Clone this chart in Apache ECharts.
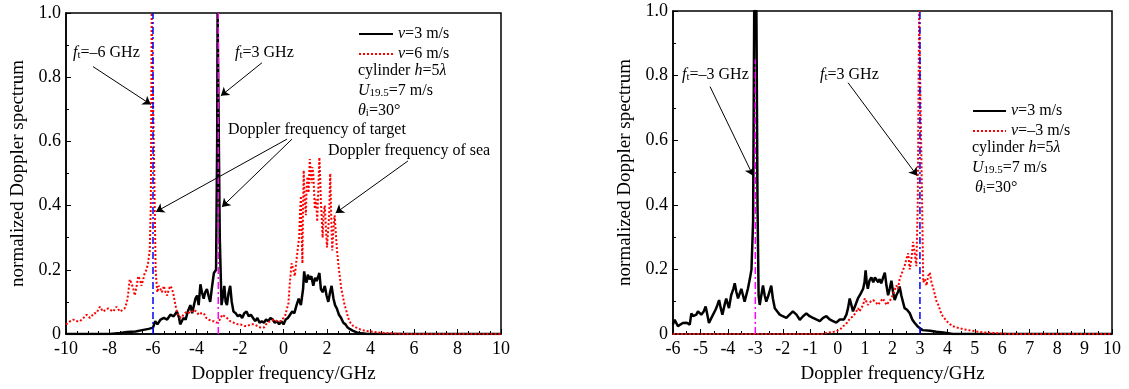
<!DOCTYPE html>
<html><head><meta charset="utf-8">
<script src="https://cdn.jsdelivr.net/npm/echarts@6/dist/echarts.min.js"></script>
<style>html,body{margin:0;padding:0;background:#fff}#c{width:1129px;height:389px}</style>
</head><body><div id="c"></div>
<script>
// ---------- DATA ----------
// Left panel: [Doppler frequency (GHz), normalized spectrum]
const leftBlack = [[-10,0],[-8,0],[-7.5,0.003],[-7.2,0.006],[-6.8,0.008],[-6.5,0.012],[-6.2,0.016],[-6.0,0.02],[-5.9,0.04],[-5.8,0.03],[-5.65,0.045],[-5.5,0.05],[-5.35,0.045],[-5.2,0.06],[-5.05,0.055],[-4.9,0.07],[-4.8,0.05],[-4.75,0.03],[-4.6,0.05],[-4.5,0.045],[-4.4,0.07],[-4.28,0.09],[-4.2,0.065],[-4.13,0.07],[-4.05,0.11],[-3.97,0.12],[-3.9,0.09],[-3.82,0.155],[-3.75,0.13],[-3.67,0.11],[-3.6,0.13],[-3.52,0.14],[-3.45,0.12],[-3.37,0.1],[-3.3,0.14],[-3.2,0.19],[-3.1,0.2],[-3.05,0.6],[-3.03,1.0],[-2.97,1.0],[-2.93,0.3],[-2.85,0.09],[-2.78,0.12],[-2.72,0.15],[-2.66,0.1],[-2.6,0.09],[-2.52,0.13],[-2.45,0.15],[-2.38,0.1],[-2.3,0.07],[-2.2,0.065],[-2.1,0.055],[-2.0,0.06],[-1.9,0.05],[-1.8,0.065],[-1.7,0.07],[-1.6,0.055],[-1.5,0.06],[-1.4,0.05],[-1.3,0.04],[-1.2,0.05],[-1.1,0.035],[-1.0,0.04],[-0.9,0.035],[-0.8,0.045],[-0.7,0.04],[-0.6,0.05],[-0.5,0.045],[-0.4,0.035],[-0.3,0.04],[-0.2,0.03],[-0.1,0.04],[0,0.03],[0.1,0.045],[0.2,0.05],[0.3,0.06],[0.4,0.07],[0.5,0.065],[0.6,0.09],[0.7,0.11],[0.8,0.09],[0.9,0.14],[0.95,0.195],[1.0,0.17],[1.06,0.16],[1.12,0.185],[1.2,0.17],[1.28,0.18],[1.37,0.15],[1.45,0.175],[1.52,0.165],[1.6,0.18],[1.65,0.19],[1.72,0.14],[1.8,0.13],[1.9,0.15],[1.98,0.12],[2.06,0.1],[2.14,0.13],[2.21,0.15],[2.3,0.11],[2.37,0.09],[2.45,0.08],[2.55,0.06],[2.65,0.05],[2.75,0.035],[2.85,0.03],[2.95,0.02],[3.06,0.015],[3.2,0.01],[3.37,0.005],[3.6,0.002],[3.85,0],[10,0]];
const leftRed = [[-10,0.03],[-9.8,0.04],[-9.66,0.045],[-9.5,0.04],[-9.36,0.04],[-9.2,0.05],[-9.05,0.06],[-8.9,0.05],[-8.82,0.055],[-8.7,0.065],[-8.6,0.065],[-8.44,0.085],[-8.3,0.07],[-8.18,0.075],[-8.06,0.08],[-7.95,0.075],[-7.83,0.07],[-7.68,0.085],[-7.52,0.07],[-7.4,0.075],[-7.3,0.08],[-7.2,0.1],[-7.15,0.12],[-7.07,0.17],[-7.0,0.16],[-6.9,0.14],[-6.84,0.12],[-6.75,0.15],[-6.68,0.18],[-6.6,0.17],[-6.53,0.15],[-6.45,0.17],[-6.38,0.19],[-6.3,0.2],[-6.23,0.22],[-6.15,0.26],[-6.1,0.4],[-6.06,1.0],[-5.97,1.0],[-5.92,0.4],[-5.88,0.2],[-5.85,0.17],[-5.8,0.13],[-5.74,0.15],[-5.66,0.14],[-5.59,0.13],[-5.5,0.15],[-5.42,0.13],[-5.35,0.12],[-5.27,0.14],[-5.2,0.15],[-5.12,0.14],[-5.05,0.12],[-4.97,0.09],[-4.9,0.07],[-4.82,0.055],[-4.7,0.05],[-4.6,0.06],[-4.45,0.07],[-4.3,0.065],[-4.13,0.075],[-4.0,0.07],[-3.9,0.06],[-3.78,0.065],[-3.67,0.065],[-3.55,0.05],[-3.44,0.045],[-3.3,0.04],[-3.2,0.04],[-3.08,0.035],[-2.97,0.04],[-2.88,0.05],[-2.82,0.06],[-2.7,0.055],[-2.6,0.05],[-2.45,0.04],[-2.28,0.035],[-2.1,0.03],[-1.98,0.03],[-1.8,0.025],[-1.67,0.025],[-1.5,0.03],[-1.36,0.03],[-1.2,0.025],[-1.06,0.02],[-0.9,0.02],[-0.75,0.035],[-0.6,0.04],[-0.45,0.045],[-0.3,0.04],[-0.14,0.04],[0,0.05],[0.09,0.06],[0.16,0.08],[0.22,0.09],[0.28,0.15],[0.37,0.22],[0.45,0.2],[0.52,0.18],[0.58,0.22],[0.63,0.25],[0.68,0.28],[0.72,0.3],[0.76,0.38],[0.8,0.43],[0.84,0.3],[0.87,0.22],[0.9,0.4],[0.93,0.51],[0.97,0.42],[1.03,0.37],[1.06,0.45],[1.1,0.49],[1.15,0.44],[1.21,0.545],[1.25,0.5],[1.29,0.47],[1.33,0.52],[1.37,0.5],[1.41,0.44],[1.44,0.39],[1.5,0.42],[1.55,0.35],[1.6,0.45],[1.65,0.55],[1.69,0.48],[1.72,0.41],[1.76,0.36],[1.8,0.3],[1.85,0.38],[1.9,0.4],[1.95,0.33],[2.0,0.27],[2.05,0.32],[2.1,0.37],[2.15,0.5],[2.2,0.35],[2.24,0.26],[2.3,0.33],[2.35,0.37],[2.4,0.32],[2.46,0.26],[2.55,0.2],[2.66,0.14],[2.75,0.11],[2.81,0.09],[2.9,0.07],[2.97,0.05],[3.08,0.035],[3.2,0.025],[3.35,0.02],[3.51,0.015],[3.75,0.01],[3.97,0.008],[4.3,0.005],[4.73,0.003],[5.2,0.001],[5.6,0],[10,0]];
// Right panel
const rightBlack = [[-6,0.03],[-5.94,0.044],[-5.82,0.024],[-5.72,0.03],[-5.64,0.034],[-5.5,0.035],[-5.39,0.029],[-5.33,0.064],[-5.27,0.055],[-5.21,0.049],[-5.15,0.06],[-5.09,0.07],[-4.97,0.06],[-4.88,0.07],[-4.81,0.085],[-4.75,0.06],[-4.69,0.034],[-4.6,0.05],[-4.54,0.06],[-4.45,0.075],[-4.38,0.09],[-4.32,0.105],[-4.26,0.08],[-4.2,0.06],[-4.12,0.09],[-4.06,0.11],[-3.96,0.08],[-3.88,0.12],[-3.8,0.14],[-3.75,0.157],[-3.69,0.13],[-3.63,0.11],[-3.57,0.125],[-3.51,0.14],[-3.45,0.12],[-3.39,0.1],[-3.33,0.12],[-3.27,0.14],[-3.2,0.17],[-3.14,0.2],[-3.08,0.35],[-3.04,1.0],[-2.96,1.0],[-2.92,0.4],[-2.88,0.12],[-2.84,0.09],[-2.78,0.12],[-2.72,0.15],[-2.66,0.12],[-2.6,0.1],[-2.52,0.12],[-2.42,0.15],[-2.36,0.11],[-2.29,0.08],[-2.2,0.07],[-2.11,0.06],[-2.0,0.055],[-1.87,0.05],[-1.75,0.06],[-1.63,0.07],[-1.5,0.06],[-1.38,0.044],[-1.26,0.055],[-1.14,0.064],[-1.02,0.055],[-0.9,0.05],[-0.78,0.045],[-0.65,0.04],[-0.53,0.05],[-0.41,0.055],[-0.29,0.045],[-0.17,0.04],[-0.05,0.035],[0.01,0.03],[0.08,0.045],[0.14,0.05],[0.23,0.045],[0.32,0.06],[0.38,0.08],[0.44,0.11],[0.5,0.09],[0.56,0.07],[0.65,0.09],[0.74,0.11],[0.84,0.125],[0.93,0.14],[0.98,0.16],[1.02,0.197],[1.06,0.16],[1.1,0.14],[1.16,0.165],[1.23,0.175],[1.3,0.16],[1.36,0.175],[1.41,0.17],[1.48,0.16],[1.53,0.17],[1.59,0.157],[1.66,0.175],[1.72,0.19],[1.78,0.15],[1.84,0.12],[1.9,0.14],[1.96,0.165],[2.02,0.13],[2.08,0.105],[2.14,0.12],[2.2,0.13],[2.26,0.147],[2.32,0.12],[2.38,0.1],[2.44,0.08],[2.53,0.075],[2.63,0.064],[2.72,0.045],[2.81,0.034],[2.9,0.025],[3.0,0.018],[3.1,0.012],[3.37,0.01],[3.6,0.007],[3.85,0.005],[4.2,0],[10,0]];
const rightRed = [[-6,0],[-0.6,0],[-0.53,0.003],[-0.3,0.005],[-0.05,0.008],[0.1,0.015],[0.2,0.024],[0.3,0.03],[0.38,0.04],[0.47,0.05],[0.56,0.054],[0.65,0.065],[0.74,0.08],[0.8,0.07],[0.87,0.064],[0.93,0.09],[0.99,0.11],[1.05,0.1],[1.1,0.09],[1.2,0.1],[1.29,0.105],[1.38,0.1],[1.47,0.09],[1.56,0.1],[1.65,0.11],[1.72,0.1],[1.78,0.09],[1.87,0.1],[1.96,0.11],[2.05,0.13],[2.14,0.15],[2.2,0.14],[2.26,0.17],[2.35,0.19],[2.44,0.21],[2.5,0.23],[2.57,0.25],[2.63,0.2],[2.7,0.24],[2.75,0.285],[2.81,0.25],[2.87,0.21],[2.92,0.4],[2.97,1.0],[3.04,1.0],[3.08,0.4],[3.12,0.16],[3.18,0.17],[3.24,0.15],[3.3,0.18],[3.36,0.19],[3.42,0.16],[3.49,0.14],[3.55,0.12],[3.61,0.1],[3.67,0.09],[3.73,0.075],[3.79,0.06],[3.88,0.05],[3.97,0.04],[4.1,0.03],[4.21,0.024],[4.33,0.02],[4.46,0.018],[4.58,0.015],[4.7,0.013],[4.9,0.01],[5.07,0.008],[5.35,0.005],[5.7,0.003],[6.0,0.001],[6.3,0],[10,0]];
// target Doppler frequency markers: [frequency, top value]
const leftBlueMark = [-6, 1.0];
const leftMagentaMark = [-3, 1.0];
const rightMagentaMark = [-3, 0.85];
const rightBlueMark = [3, 1.0];
// series names
const leftNames = ['v=3 m/s', 'v=6 m/s'];
const rightNames = ['v=3 m/s', 'v=–3 m/s'];
// annotation arrows in data units [x1,y1,x2,y2]
const leftArrows = [[-8.76,0.833,-6.1,0.715],[-0.99,0.845,-2.88,0.742],[0.16,0.607,-5.86,0.381],[0.39,0.607,-2.83,0.396],[5.72,0.539,2.4,0.377]];
const rightArrows = [[-4.65,0.766,-3.08,0.49],[0.38,0.778,2.9,0.49]];

// ---------- CHART ----------
const F = '"Liberation Serif", "Times New Roman", serif';
const chart = echarts.init(document.getElementById('c'), null, {renderer: 'canvas'});
const rich = {
  it: {fontStyle: 'italic', fontFamily: F, fontSize: 16, fill: '#000', color: '#000'},
  sub: {fontFamily: F, fontSize: 11, verticalAlign: 'bottom', lineHeight: 11, color: '#000', fill: '#000'}
};
function txt(text, left, cy) {
  return {type: 'text', left: left, top: cy - 10, z: 100,
    style: {text: text, rich: rich, font: '16px ' + F, fill: '#000'}};
}
function vline(m) { return [[m[0], 0], [m[0], m[1]]]; }
function arrows(list) {
  return {silent: true, symbol: ['none', 'arrow'], symbolSize: 8, animation: false,
    label: {show: false}, lineStyle: {color: '#000', width: 1, type: 'solid'},
    emphasis: {disabled: true},
    data: list.map(a => [{coord: [a[0], a[1]]}, {coord: [a[2], a[3]]}])};
}
const yAxisBase = {
  type: 'value', min: 0, max: 1, interval: 0.2,
  name: 'normalized Doppler spectrum', nameLocation: 'middle', nameGap: 38,
  nameTextStyle: {fontFamily: F, fontSize: 19, color: '#000'},
  axisLine: {show: true, onZero: false, lineStyle: {color: '#000', width: 1.5}},
  axisTick: {inside: true, length: 5, lineStyle: {color: '#000'}},
  minorTick: {show: true, splitNumber: 2, length: 3, lineStyle: {color: '#000'}},
  splitLine: {show: false},
  axisLabel: {fontFamily: F, fontSize: 18, color: '#000', margin: 5,
    formatter: v => v === 0 ? '0' : v.toFixed(1)}
};
function xAxis(gi, min, interval, minorSplit) {
  return {type: 'value', gridIndex: gi, min: min, max: 10, interval: interval,
    name: 'Doppler frequency/GHz', nameLocation: 'middle', nameGap: 31,
    nameTextStyle: {fontFamily: F, fontSize: 19, color: '#000'},
    axisLine: {show: true, onZero: false, lineStyle: {color: '#000', width: 1.5}},
    axisTick: {inside: true, length: 5, lineStyle: {color: '#000'}},
    minorTick: {show: true, splitNumber: minorSplit, length: 3, lineStyle: {color: '#000'}},
    splitLine: {show: false},
    axisLabel: {fontFamily: F, fontSize: 18, color: '#000', margin: 6}};
}
const blackStyle = {color: '#000', width: 2.5};
const redStyle = {color: '#ff0000', width: 2, type: [2, 2]};
const dashDot = [7, 3, 2, 3];
function legend(names, left, top, w) {
  return {data: names, left: left, top: top, orient: 'vertical', itemWidth: w, itemHeight: 14,
    itemGap: 4, selectedMode: false, inactiveColor: '#000', padding: 0,
    itemStyle: {opacity: 0},
    formatter: n => '{it|v}' + n.slice(1),
    textStyle: {fontFamily: F, fontSize: 16, color: '#000', rich: {it: {fontStyle: 'italic', fontFamily: F, fontSize: 16, color: '#000'}}}};
}

chart.setOption({
  animation: false,
  backgroundColor: '#fff',
  grid: [
    {left: 66, top: 13, width: 435, height: 323, show: true, borderColor: '#000', borderWidth: 1.5, backgroundColor: 'transparent'},
    {left: 673, top: 11, width: 439, height: 325, show: true, borderColor: '#000', borderWidth: 1.5, backgroundColor: 'transparent'}
  ],
  xAxis: [xAxis(0, -10, 2, 4), xAxis(1, -6, 1, 2)],
  yAxis: [Object.assign({gridIndex: 0}, yAxisBase), Object.assign({gridIndex: 1}, yAxisBase)],
  legend: [legend(leftNames, 358, 26, 34), legend(rightNames, 972, 103, 33)],
  series: [
    {name: leftNames[0], type: 'line', xAxisIndex: 0, yAxisIndex: 0, data: leftBlack, showSymbol: false, symbol: 'none', lineStyle: blackStyle, itemStyle: {color: '#000'}, markLine: arrows(leftArrows), z: 2},
    {name: leftNames[1], type: 'line', xAxisIndex: 0, yAxisIndex: 0, data: leftRed, showSymbol: false, symbol: 'none', lineStyle: redStyle, itemStyle: {color: '#ff0000'}, z: 3},
    {name: 'lb', type: 'line', xAxisIndex: 0, yAxisIndex: 0, data: vline(leftBlueMark), showSymbol: false, symbol: 'none', lineStyle: {color: '#0000ff', width: 1.5, type: dashDot}, z: 4},
    {name: 'lm', type: 'line', xAxisIndex: 0, yAxisIndex: 0, data: vline(leftMagentaMark), showSymbol: false, symbol: 'none', lineStyle: {color: '#ff00ff', width: 1.5, type: dashDot}, z: 4},
    {name: rightNames[0], type: 'line', xAxisIndex: 1, yAxisIndex: 1, data: rightBlack, showSymbol: false, symbol: 'none', lineStyle: blackStyle, itemStyle: {color: '#000'}, markLine: arrows(rightArrows), z: 2},
    {name: rightNames[1], type: 'line', xAxisIndex: 1, yAxisIndex: 1, data: rightRed, showSymbol: false, symbol: 'none', lineStyle: redStyle, itemStyle: {color: '#ff0000'}, z: 3},
    {name: 'rm', type: 'line', xAxisIndex: 1, yAxisIndex: 1, data: vline(rightMagentaMark), showSymbol: false, symbol: 'none', lineStyle: {color: '#ff00ff', width: 1.5, type: dashDot}, z: 4},
    {name: 'rb', type: 'line', xAxisIndex: 1, yAxisIndex: 1, data: vline(rightBlueMark), showSymbol: false, symbol: 'none', lineStyle: {color: '#0000ff', width: 1.5, type: dashDot}, z: 4}
  ],
  graphic: [
    txt('{it|f}{sub|t}=–6 GHz', 73, 55),
    txt('{it|f}{sub|t}=3 GHz', 235, 55),
    txt('Doppler frequency of target', 228, 132),
    txt('Doppler frequency of sea', 328, 153),
    txt('cylinder {it|h}=5{it|λ}', 358, 73),
    txt('{it|U}{sub|19.5}=7 m/s', 358, 93),
    txt('{it|θ}{sub|i}=30°', 358, 113),
    txt('{it|f}{sub|t}=–3 GHz', 682, 77),
    txt('{it|f}{sub|t}=3 GHz', 820, 77),
    txt('cylinder {it|h}=5{it|λ}', 972, 150),
    txt('{it|U}{sub|19.5}=7 m/s', 972, 170),
    txt('{it|θ}{sub|i}=30°', 975, 190)
  ]
});
</script></body></html>
